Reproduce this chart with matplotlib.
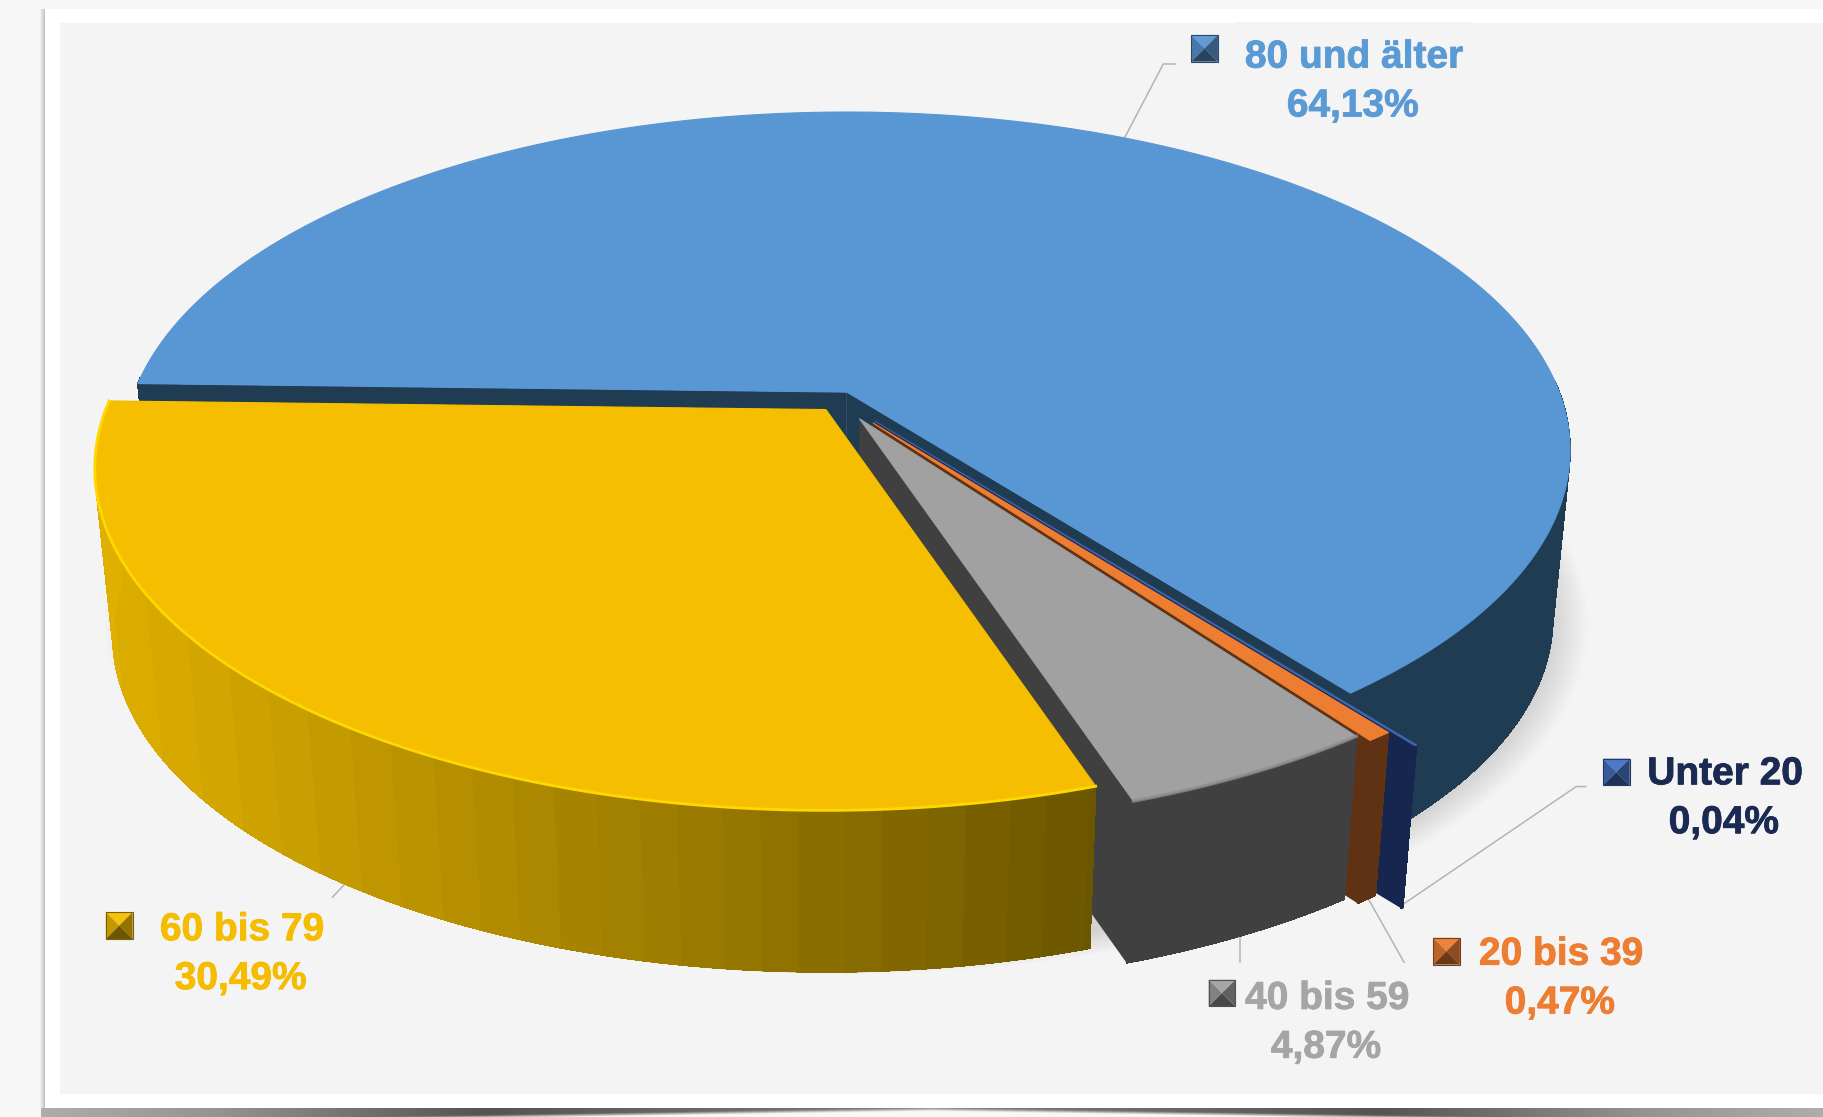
import numpy as np
import matplotlib
matplotlib.use('Agg')
import matplotlib.pyplot as plt
import matplotlib.patheffects as pe
from matplotlib.patches import Polygon, Rectangle
from matplotlib.colors import to_rgb

plt.rcParams['font.family'] = ['Liberation Sans', 'DejaVu Sans']

# clockwise from the left edge of the pie
categories = ['80 und älter', 'Unter 20', '20 bis 39', '40 bis 59', '60 bis 79']
shares = [64.13, 0.04, 0.47, 4.87, 30.49]
top_colors = ['#5896D4', '#3E66B0', '#ED7D31', '#A1A1A1', '#F5BE00']
wall_colors = ['#1F3C53', '#17264F', '#5E3212', '#404040', '#A37E00']
text_colors = ['#5B9BD5', '#1A2A52', '#ED7D31', '#A5A5A5', '#F5BC00']

# pie geometry, in the axes units (1568 x 960)
cx, cy = 728, 337
R, Rt = 610, 281
k = 0.172
H = 145
f = 0.976
fy = 0.983
start = 178.5
offsets = [(0, 0), (24, 25), (22.7, 26.6), (11, 23), (-18, 15)]
rscale = [1.004, 1.08, 1.03, 1.03, 1.015]

label_pos = [(1164, 47), (1483, 663), (1342, 818), (1141, 856), (208, 797)]
swatch_pos = [(1024, 30), (1378, 652), (1232, 806), (1039, 842), (91, 784)]
leaders = [
    [(967, 118), (1000, 55), (1010, 55)],
    [(1205, 778), (1355, 676), (1363, 676)],
    [(1176, 772), (1207, 827)],
    [(1066, 803), (1066, 827)],
    [(298, 758), (286, 771)],
]
label_boxes = [(1062, 19, 204, 95), (1408, 640, 150, 90), (1262, 795, 158, 90),
               (1064, 833, 156, 90), (130, 771, 156, 90)]


def top_xy(theta, off=(0, 0), rs=1.0):
    t = np.radians(theta)
    u = np.cos(t)
    v = -np.sin(t)
    s = 1 / (1 - k * v)
    return cx + off[0] + R * rs * u * s, cy + off[1] + Rt * rs * v * s


def bottom_xy(x, y):
    return cx + (x - cx) * f, cy + H + (y - cy) * fy


def shade(col, fac):
    c = np.array(to_rgb(col))
    if fac < 1:
        return tuple(c * fac)
    return tuple(c + (1 - c) * (fac - 1))


fig = plt.figure(figsize=(18.24, 11.17), dpi=100, facecolor='#F7F7F7')
ax = fig.add_axes([0, 0, 1, 1])
ax.axis('off')

# photo frame with its shadow, bright in the middle of the bottom edge
gx, gy = np.meshgrid(np.linspace(35, 1568, 800), np.linspace(0, 1, 40))
a = np.abs(gx - 800) / 770
base = np.interp(a, [0, 0.5, 0.8, 1], [0.5, 0.33, 0.58, 0.68])
r0 = 0.05 + 1.5 * a
bottom_shadow = base + (0.97 - base) * np.clip((gy - r0) / 0.35, 0, 1)
ax.imshow(bottom_shadow, extent=(35, 1568, 960, 952), cmap='gray', vmin=0, vmax=1,
          aspect='auto', zorder=0)
ax.imshow(np.linspace(0.95, 0.72, 8).reshape(1, -1), extent=(34, 39, 952, 8), cmap='gray',
          vmin=0, vmax=1, aspect='auto', zorder=0)
ax.add_patch(Rectangle((39, 8), 1530, 944, fc='white', ec='none', zorder=0.5))
ax.add_patch(Rectangle((52, 20), 1516, 920, fc='#F4F4F4', ec='none', zorder=0.6))
ax.set_xlim(0, 1568)
ax.set_ylim(960, 0)

# angles of the slices
edges = start - np.cumsum([0] + [s * 3.6 for s in shares])

# soft shadow under the pie
th = np.linspace(0, 360, 181)
ox, oy = top_xy(th)
bx, by = bottom_xy(ox, oy)
for grow in range(34, 0, -2):
    sx = (bx - cx) * (1 + grow / 620) + cx
    sy = (by - (cy + H)) * (1 + grow / 600) + cy + H + 3
    ax.add_patch(Polygon(np.c_[sx, sy], fc='black', ec='none', alpha=0.008, zorder=1))

# leader lines and label backgrounds sit on top of the shadow
for bxs in label_boxes:
    ax.add_patch(Rectangle((bxs[0], bxs[1]), bxs[2], bxs[3], fc='#F4F4F4', ec='none', zorder=1.2))
for ld in leaders:
    ax.plot([p[0] for p in ld], [p[1] for p in ld], color='#B4B4B4', lw=1.1, zorder=1.3)

# slices, back to front
z = 2
for i in range(len(shares)):
    off = offsets[i]
    rs = rscale[i]
    a0, b0 = edges[i], edges[i + 1]
    n = max(int(abs(a0 - b0) * 2), 3)
    th = np.linspace(a0, b0, n)
    tx, ty = top_xy(th, off, rs)
    ax0, ay0 = top_xy(90, off, 0.0)
    dx, dy = bottom_xy(tx, ty)
    adx, ady = bottom_xy(ax0, ay0)

    # the two cut faces
    for e in (0, -1):
        ax.add_patch(Polygon([(ax0, ay0), (tx[e], ty[e]), (dx[e], dy[e]), (adx, ady)],
                             fc=wall_colors[i], ec='none', zorder=z))
    # outer wall, small quads so it also works past the silhouette
    for j in range(n - 1):
        # the back half is hidden behind the top face
        if ty[j] < ay0 - 10:
            continue
        col = wall_colors[i]
        if i == 4:
            # yellow wall fades in bands from bright on the left to dark on the right
            pos = np.floor((tx[j] - 90) / 850 * 24) / 24
            col = tuple(np.array(to_rgb('#DBAC00')) * (1 - pos) + np.array(to_rgb('#6A5500')) * pos)
        ax.add_patch(Polygon([(tx[j], ty[j]), (tx[j + 1], ty[j + 1]), (dx[j + 1], dy[j + 1]), (dx[j], dy[j])],
                             fc=col, ec=col, lw=0.5, antialiased=False, zorder=z))
        ax.plot([dx[j], dx[j + 1]], [dy[j], dy[j + 1]], color=col, lw=0.9, zorder=z)
    # top face
    ax.add_patch(Polygon(np.r_[[(ax0, ay0)], np.c_[tx, ty]], fc=top_colors[i], ec=top_colors[i],
                         lw=0.8, joinstyle='round', zorder=z + 0.1))
    if i == 4:
        ax.plot(tx, ty, color='#FFD800', lw=2.0, zorder=z + 0.2)
    elif i == 3:
        ax.plot(tx, ty, color='#8A8A8A', lw=2.5, alpha=0.7, zorder=z + 0.2)
    z += 1

# labels with pyramid shaped swatches
for i in range(len(categories)):
    x, y = swatch_pos[i]
    w = 23
    c = top_colors[i]
    if i == 1:
        c = '#4472C4'
    m = (x + w / 2, y + w / 2)
    ax.add_patch(Polygon([(x, y), (x + w, y), m], fc=shade(c, 1.05), ec='none', zorder=10))
    ax.add_patch(Polygon([(x, y), (x, y + w), m], fc=shade(c, 0.8), ec='none', zorder=10))
    ax.add_patch(Polygon([(x + w, y), (x + w, y + w), m], fc=shade(c, 0.6), ec='none', zorder=10))
    ax.add_patch(Polygon([(x, y + w), (x + w, y + w), m], fc=shade(c, 0.45), ec='none', zorder=10))
    ax.add_patch(Rectangle((x, y), w, w, fc='none', ec=shade(c, 0.5), lw=0.8, zorder=10.1))

    lx, ly = label_pos[i]
    stroke = [pe.withStroke(linewidth=0.6, foreground=text_colors[i])]
    ax.text(lx, ly + 2.5, categories[i], color=text_colors[i], fontsize=28, fontweight='bold',
            ha='center', va='center', zorder=11, path_effects=stroke)
    ax.text(lx - 1, ly + 44.5, f'{shares[i]:.2f}%'.replace('.', ','), color=text_colors[i],
            fontsize=28, fontweight='bold', ha='center', va='center', zorder=11, path_effects=stroke)

fig.savefig('out.png', dpi=100, facecolor=fig.get_facecolor())
